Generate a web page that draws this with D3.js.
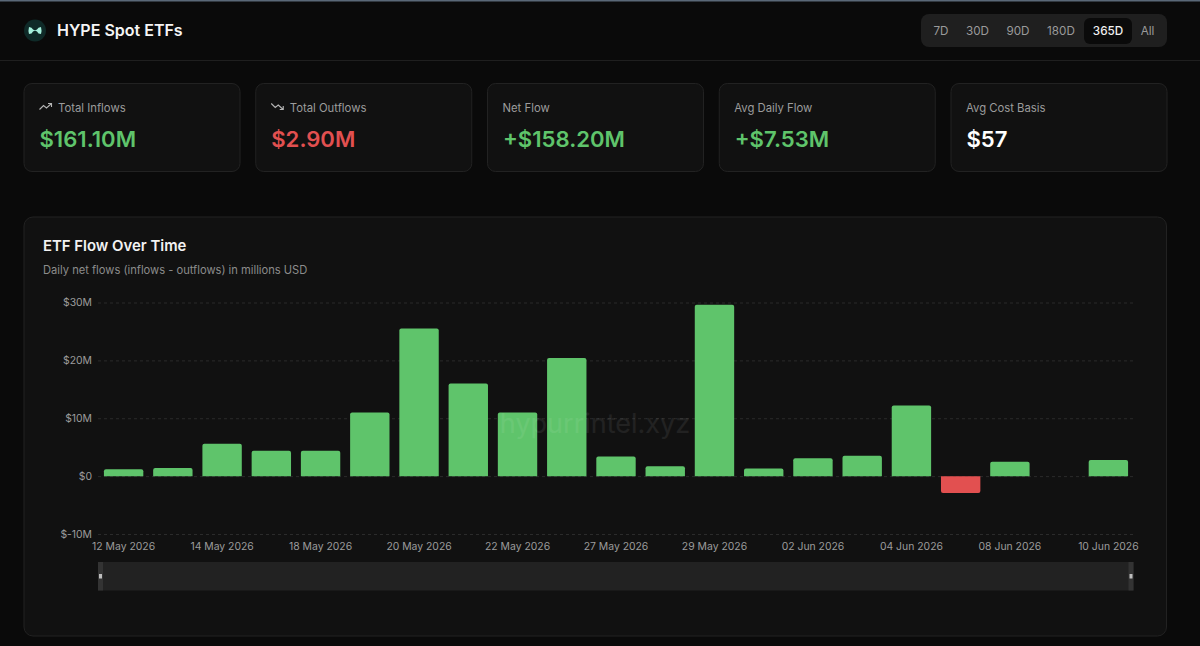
<!DOCTYPE html>
<html>
<head>
<meta charset="utf-8">
<title>HYPE Spot ETFs</title>
<script src="https://cdn.jsdelivr.net/npm/d3@7"></script>
<style>
  html, body { margin: 0; padding: 0; background: #0a0a0a; overflow: hidden; }
  svg { display: block; font-family: Inter, "Noto Sans", sans-serif; }
</style>
</head>
<body>
<svg width="1200" height="646"></svg>
<script>
// chart data
const days = ['12 May 2026', '13 May 2026', '14 May 2026', '15 May 2026', '18 May 2026', '19 May 2026', '20 May 2026',
  '21 May 2026', '22 May 2026', '26 May 2026', '27 May 2026', '28 May 2026', '29 May 2026', '01 Jun 2026',
  '02 Jun 2026', '03 Jun 2026', '04 Jun 2026', '05 Jun 2026', '08 Jun 2026', '09 Jun 2026', '10 Jun 2026'];
const netFlows = [1.2, 1.4, 5.6, 4.4, 4.4, 11, 25.5, 16, 11, 20.4, 3.4, 1.7, 29.6, 1.3, 3.1, 3.5, 12.2, -2.9, 2.5, 0, 2.8];
const dayTicks = ['12 May 2026', '14 May 2026', '18 May 2026', '20 May 2026', '22 May 2026', '27 May 2026',
  '29 May 2026', '02 Jun 2026', '04 Jun 2026', '08 Jun 2026', '10 Jun 2026'];
const flowTicks = [-10, 0, 10, 20, 30];

const ranges = ['7D', '30D', '90D', '180D', '365D', 'All'];
const cardLabels = ['Total Inflows', 'Total Outflows', 'Net Flow', 'Avg Daily Flow', 'Avg Cost Basis'];
const cardValues = ['$161.10M', '$2.90M', '+$158.20M', '+$7.53M', '$57'];

const green = '#5fc46b';
const red = '#e25050';

const svg = d3.select('svg');

// page frame
svg.append('rect').attr('width', 1200).attr('height', 1.5).attr('fill', '#5a6878');
svg.append('line').attr('x1', 0).attr('x2', 1200).attr('y1', 60.5).attr('y2', 60.5).attr('stroke', '#1f1f1f');

// logo + title
const logo = svg.append('g').attr('transform', 'translate(35,30.5)');
logo.append('circle').attr('r', 11).attr('fill', '#0f2a28');
logo.append('path').attr('d', 'M-6,-3.5 Q-3,-3.5 -2,-1 Q0,0.5 2,-1 Q3,-3.5 6,-3.5 Q7,0 6,3.5 Q3,3.5 2,1 Q0,-0.5 -2,1 Q-3,3.5 -6,3.5 Q-7,0 -6,-3.5 Z')
  .attr('fill', '#a5f0dc');
svg.append('text').attr('x', 57).attr('y', 36).attr('fill', '#f5f5f5')
  .attr('font-size', 16).attr('font-weight', 600).text('HYPE Spot ETFs');

// range switch
svg.append('rect').attr('x', 921).attr('y', 14).attr('width', 246).attr('height', 33).attr('rx', 8).attr('fill', '#1f1f1f');
svg.append('rect').attr('x', 1084).attr('y', 18).attr('width', 48).attr('height', 26).attr('rx', 6).attr('fill', '#0a0a0a');
const rangeCenters = [941, 977.5, 1018, 1061, 1108, 1147.5];
svg.selectAll('.range').data(ranges).enter().append('text')
    .attr('class', 'range')
    .attr('x', (d, i) => rangeCenters[i])
    .attr('y', 35)
    .attr('text-anchor', 'middle')
    .attr('font-size', 11.7)
    .attr('font-weight', d => d === '365D' ? 500 : 400)
    .attr('fill', d => d === '365D' ? '#f0f0f0' : '#9a9a9a')
    .text(d => d);

// stat cards
const cardX = i => 23.5 + i * 231.75;
const card = svg.selectAll('.card').data(cardLabels).enter().append('g')
  .attr('class', 'card')
  .attr('transform', (d, i) => `translate(${cardX(i)},83)`);
card.append('rect')
  .attr('x', 0.5).attr('y', 0.5).attr('width', 216).attr('height', 88).attr('rx', 8)
  .attr('fill', '#111111').attr('stroke', '#222222');
card.append('text')
  .attr('x', (d, i) => i < 2 ? 34.5 : 15.5)
  .attr('y', 28.5)
  .attr('font-size', 11.3)
  .attr('fill', '#9c9c9c')
  .text(d => d);
const valueColors = [green, red, green, green, '#ffffff'];
card.append('text')
  .attr('x', 16)
  .attr('y', 64)
  .attr('font-size', 22.1)
  .attr('font-weight', 600)
  .attr('fill', (d, i) => valueColors[i])
  .text((d, i) => cardValues[i]);
// trend icons on the first two cards
const iconPaths = ['M0,7 L4,3 L7,5.5 L12,1 M8.5,1 L12,1 L12,4.5', 'M0,1 L4,5 L7,2.5 L12,7 M8.5,7 L12,7 L12,3.5'];
card.filter((d, i) => i < 2).append('path')
  .attr('transform', 'translate(16,19.5)')
  .attr('d', (d, i) => iconPaths[i])
  .attr('fill', 'none').attr('stroke', '#b5b5b5').attr('stroke-width', 1.1);

// chart card
svg.append('rect').attr('x', 24).attr('y', 217).attr('width', 1142.5).attr('height', 419).attr('rx', 9)
  .attr('fill', '#111111').attr('stroke', '#222222');
svg.append('text').attr('x', 43).attr('y', 251).attr('fill', '#f2f2f2')
  .attr('font-size', 14.9).attr('font-weight', 600).text('ETF Flow Over Time');
svg.append('text').attr('x', 43).attr('y', 274).attr('fill', '#8c8c8c')
  .attr('font-size', 11.15).text('Daily net flows (inflows - outflows) in millions USD');

const xScale = d3.scaleBand().domain(days).range([99, 1133]).paddingInner(0.2).paddingOuter(0.1);
const yScale = d3.scaleLinear().domain([-10, 30]).range([534, 302.5]);

const flowFormat = v => v === 0 ? '$0' : `$${v}M`;

// gridlines and y labels
const yAxisG = svg.append('g')
  .attr('transform', 'translate(98,0)')
  .call(d3.axisLeft(yScale).tickValues(flowTicks).tickFormat(flowFormat).tickSize(-1035).tickPadding(6));
yAxisG.select('.domain').remove();
yAxisG.selectAll('.tick line').attr('stroke', '#2b2b2b').attr('stroke-dasharray', '3 3');
yAxisG.selectAll('.tick text').attr('fill', '#9c9c9c').attr('font-size', 10.4).attr('font-family', 'Inter');

// x labels
const xAxisG = svg.append('g')
  .attr('transform', 'translate(0,534)')
  .call(d3.axisBottom(xScale).tickValues(dayTicks).tickSize(0).tickPadding(9));
xAxisG.select('.domain').remove();
xAxisG.selectAll('.tick text').attr('fill', '#9c9c9c').attr('font-size', 10.4).attr('font-family', 'Inter');

// bars, flat on the zero line and rounded at the far end
const barPath = (day, v) => {
  const x0 = xScale(day), x1 = x0 + xScale.bandwidth();
  const y0 = yScale(0), y1 = yScale(v);
  const r = Math.min(2, Math.abs(y1 - y0));
  const s = v >= 0 ? 1 : -1;
  return `M${x0},${y0} L${x0},${y1 + s * r} Q${x0},${y1} ${x0 + r},${y1} L${x1 - r},${y1} Q${x1},${y1} ${x1},${y1 + s * r} L${x1},${y0} Z`;
};
svg.selectAll('.bar').data(netFlows).enter().append('path')
  .attr('class', 'bar')
  .attr('d', (d, i) => barPath(days[i], d))
  .attr('fill', d => d < 0 ? red : green);

// watermark
svg.append('text').attr('x', 595).attr('y', 433).attr('text-anchor', 'middle')
  .attr('font-size', 27).attr('fill', '#ffffff').attr('opacity', 0.07)
  .text('hypurrintel.xyz');

// range slider under the chart
svg.append('rect').attr('x', 98).attr('y', 562).attr('width', 1035.5).attr('height', 28.5).attr('fill', '#222222');
[98, 1128.5].forEach(x => {
  svg.append('rect').attr('x', x).attr('y', 562).attr('width', 5).attr('height', 28.5).attr('fill', '#333333');
  svg.append('rect').attr('x', x + 1).attr('y', 574).attr('width', 3).attr('height', 4.5).attr('fill', '#bdbdbd');
});
</script>
</body>
</html>
